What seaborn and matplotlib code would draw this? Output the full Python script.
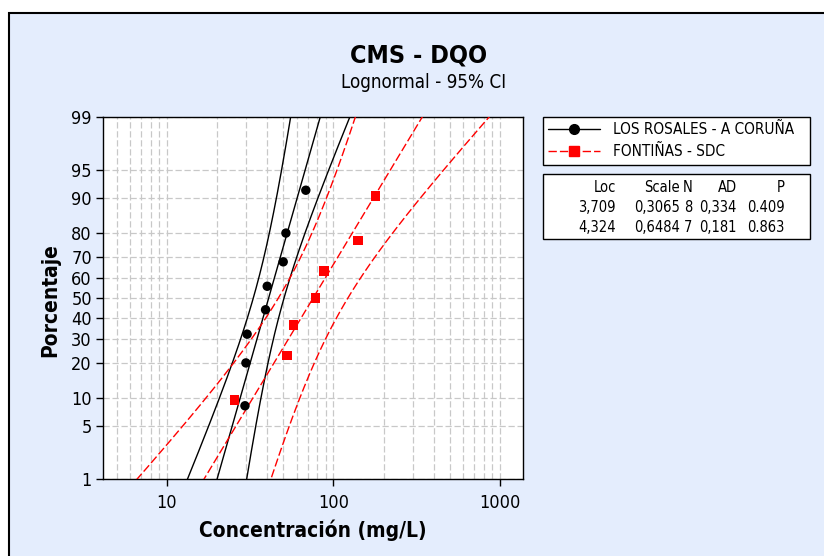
import math
from statistics import NormalDist
import numpy as np
import pandas as pd
import matplotlib
matplotlib.use("Agg")
import matplotlib.pyplot as plt
import seaborn as sns
from matplotlib.lines import Line2D
from matplotlib.patches import Rectangle
from matplotlib.ticker import LogLocator, FixedLocator, NullFormatter, FixedFormatter

# ---------------- data ----------------
title = "CMS - DQO"
subtitle = "Lognormal - 95% CI"
x_label = "Concentración (mg/L)"
y_label = "Porcentaje"
series_names = ["LOS ROSALES - A CORUÑA", "FONTIÑAS - SDC"]
rosales_conc = [29.4, 29.8, 30.3, 39.1, 40.0, 49.9, 51.8, 68.2]
rosales_pct = [8.3, 20.2, 32.1, 44.0, 56.0, 67.9, 79.8, 91.7]
fontinas_conc = [25.4, 52.7, 57.3, 77.9, 87.5, 140.7, 178.6]
fontinas_pct = [9.5, 23.0, 36.5, 50.0, 63.5, 77.0, 90.5]
loc_vals = [3.709, 4.324]
scale_vals = [0.3065, 0.6484]
n_vals = [8, 7]
ad_vals = [0.334, 0.181]
p_vals = [0.409, 0.863]
y_ticks = [1, 5, 10, 20, 30, 40, 50, 60, 70, 80, 90, 95, 99]
x_ticks = [10, 100, 1000]
table_header = ["Loc", "Scale", "N", "AD", "P"]

colors = ["#000000", "#ff0000"]

# ---------------- style ----------------
sns.set_theme(style="white")
plt.rcParams["font.family"] = ["DejaVu Sans"]
plt.rcParams["font.stretch"] = "condensed"
plt.rcParams["text.color"] = "black"
plt.rcParams["axes.labelcolor"] = "black"
plt.rcParams["xtick.color"] = "black"
plt.rcParams["ytick.color"] = "black"

W, H = 824, 556
fig = plt.figure(figsize=(W / 100, H / 100), dpi=100)
fig.patch.set_facecolor("white")
fx = lambda px: px / W
fy = lambda py: 1 - py / H

# blue panel with border
fig.patches.append(Rectangle((fx(9), -0.1), 1.2, fy(13) + 0.1, transform=fig.transFigure,
                             facecolor="#e4edfd", edgecolor="#000000", linewidth=1.5, zorder=-10))

ax = fig.add_axes([fx(103), fy(479), fx(523) - fx(103), fy(117) - fy(479)])
ax.set_zorder(2)
ax.set_facecolor("white")

# probability (normal) scale for y
_nd = NormalDist()


def _ppf1(p):
    if p != p:
        return float("nan")
    p = min(max(p, 1e-12), 1 - 1e-12)
    return _nd.inv_cdf(p)


_ppf = np.vectorize(_ppf1, otypes=[float])
_cdf = np.vectorize(lambda z: _nd.cdf(z) if z == z else float("nan"), otypes=[float])


def fwd(y):
    return _ppf(np.asarray(y, dtype=float) / 100.0)


def inv(z):
    return _cdf(np.asarray(z, dtype=float)) * 100.0


# ---------------- fitted lines & CIs ----------------
z_grid = np.linspace(-3.0, 3.0, 241)
pct_grid = inv(z_grid)
rows = []
for name, mu, s, n in zip(series_names, loc_vals, scale_vals, n_vals):
    se = s * np.sqrt(1.0 / n + z_grid ** 2 / (2.0 * n))
    center = mu + z_grid * s
    for kind, vals in (("fit", center), ("lo", center - 1.96 * se), ("hi", center + 1.96 * se)):
        for c, p in zip(np.exp(vals), pct_grid):
            rows.append({"conc": c, "pct": p, "group": name, "kind": kind})
lines_df = pd.DataFrame(rows)

pts_df = pd.DataFrame({
    "conc": rosales_conc + fontinas_conc,
    "pct": rosales_pct + fontinas_pct,
    "group": [series_names[0]] * len(rosales_conc) + [series_names[1]] * len(fontinas_conc),
})

palette = dict(zip(series_names, colors))

ax.set_xscale("log")
ax.set_yscale("function", functions=(fwd, inv))

sns.lineplot(data=lines_df, x="conc", y="pct", hue="group", style="group", units="kind",
             estimator=None, sort=False, palette=palette,
             dashes={series_names[0]: "", series_names[1]: (6, 2.2)},
             linewidth=1.0, legend=False, ax=ax, zorder=3)
sns.scatterplot(data=pts_df, x="conc", y="pct", hue="group", style="group",
                markers={series_names[0]: "o", series_names[1]: "s"},
                palette=palette, s=46, edgecolor="none", legend=False, ax=ax, zorder=4)

ax.set_xlim(4.13, 1374)
ax.set_ylim(1, 99)

ax.xaxis.set_major_locator(FixedLocator(x_ticks))
ax.xaxis.set_major_formatter(FixedFormatter([str(t) for t in x_ticks]))
ax.xaxis.set_minor_locator(LogLocator(base=10, subs=np.arange(2, 10)))
ax.xaxis.set_minor_formatter(NullFormatter())
ax.yaxis.set_major_locator(FixedLocator(y_ticks))
ax.yaxis.set_major_formatter(FixedFormatter([str(t) for t in y_ticks]))
ax.yaxis.set_minor_locator(FixedLocator([]))

ax.grid(True, which="both", axis="x", color="#c8c8c8", linestyle=(0, (5, 2.2)), linewidth=0.9, zorder=1)
ax.grid(True, which="major", axis="y", color="#c8c8c8", linestyle=(0, (5, 2.2)), linewidth=0.9, zorder=1)
ax.set_axisbelow(True)

for sp in ax.spines.values():
    sp.set_color("black")
    sp.set_linewidth(1.0)
    sp.set_visible(True)

ax.tick_params(axis="both", which="major", direction="out", length=5, width=1, color="black",
               labelsize=13, labelcolor="black", bottom=True, left=True)
ax.tick_params(axis="x", which="major", pad=6)
ax.tick_params(axis="y", which="major", pad=3)
ax.tick_params(axis="both", which="minor", length=0)
ax.set_xlabel("")
ax.set_ylabel("")

# ---------------- texts ----------------
fig.text(fx(419), fy(55), title, ha="center", va="center", fontsize=18, fontweight="bold")
fig.text(fx(424), fy(83), subtitle, ha="center", va="center", fontsize=13.5)
fig.text(fx(313), fy(530), x_label, ha="center", va="center", fontsize=15, fontweight="bold")
fig.text(fx(50), fy(300), y_label, ha="center", va="center", fontsize=15, fontweight="bold", rotation=90)

# ---------------- legend ----------------
handles = [
    Line2D([], [], color=colors[0], lw=1.0, marker="o", markersize=7),
    Line2D([], [], color=colors[1], lw=1.0, marker="s", markersize=7, dashes=(6, 2.2)),
]
leg = fig.legend(handles, series_names, loc="upper left",
                 bbox_to_anchor=(fx(543), fy(168), fx(810) - fx(543), fy(117) - fy(168)),
                 mode="expand", borderaxespad=0, fontsize=11, frameon=True, fancybox=False,
                 edgecolor="black", framealpha=1, handlelength=3.4, handletextpad=0.8,
                 labelspacing=0.45, borderpad=0.35)
leg.get_frame().set_linewidth(1.0)

# ---------------- stats table ----------------
fig.patches.append(Rectangle((fx(543), fy(239)), fx(810) - fx(543), fy(174) - fy(239),
                             transform=fig.transFigure, facecolor="white", edgecolor="black",
                             linewidth=1.0, zorder=1))
col_right = [616, 680, 692, 737, 785]
row_y = [188, 208, 227]
for cx, h in zip(col_right, table_header):
    fig.text(fx(cx), fy(row_y[0]), h, ha="right", va="center", fontsize=10.5)
for i in range(2):
    cells = [f"{loc_vals[i]:.3f}".replace(".", ","),
             f"{scale_vals[i]:.4f}".replace(".", ","),
             str(n_vals[i]),
             f"{ad_vals[i]:.3f}".replace(".", ","),
             f"{p_vals[i]:.3f}"]
    for cx, c in zip(col_right, cells):
        fig.text(fx(cx), fy(row_y[i + 1]), c, ha="right", va="center", fontsize=10.5)

fig.savefig("out.png", dpi=100, facecolor=fig.get_facecolor())
